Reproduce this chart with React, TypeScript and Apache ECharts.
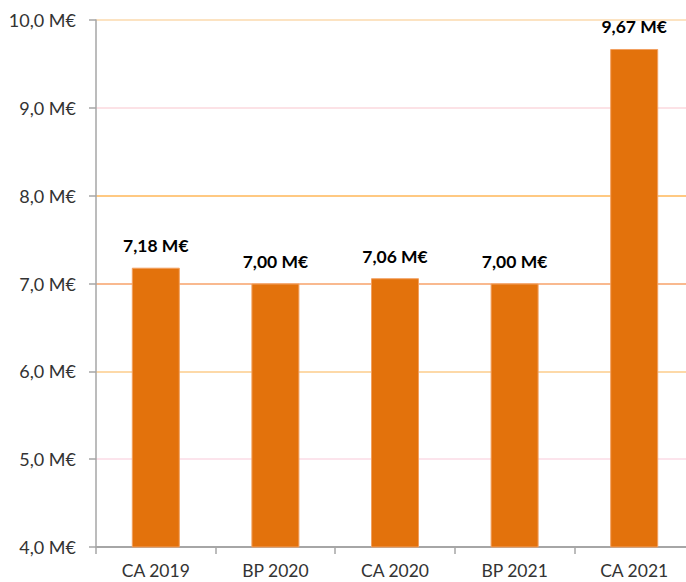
import React, { useEffect, useRef } from "react";
import * as echarts from "echarts";

const categories = ["CA 2019", "BP 2020", "CA 2020", "BP 2021", "CA 2021"];
const values = [7.18, 7.0, 7.06, 7.0, 9.67];
const yMin = 4;
const yMax = 10;
const yStep = 1;

const fmt = (v: number, d: number) => v.toFixed(d).replace(".", ",") + " M€";
const font = "Lato, 'Open Sans', sans-serif";

export default function App() {
  const ref = useRef<HTMLDivElement>(null);
  useEffect(() => {
    if (!ref.current) return;
    const chart = echarts.init(ref.current, undefined, { renderer: "svg" });
    chart.setOption({
      animation: false,
      backgroundColor: "#ffffff",
      grid: { left: 96, right: 0, top: 20, bottom: 35, containLabel: false },
      xAxis: {
        type: "category",
        data: categories,
        axisLine: { show: true, lineStyle: { color: "#A6A6A6", width: 1.5 } },
        axisTick: { show: true, length: 7, lineStyle: { color: "#A6A6A6", width: 1.5 } },
        axisLabel: {
          margin: 14,
          color: "#333333",
          fontSize: 17.5,
          lineHeight: 18,
          fontFamily: font,
        },
      },
      yAxis: {
        type: "value",
        min: yMin,
        max: yMax,
        interval: yStep,
        axisLine: { show: true, lineStyle: { color: "#A6A6A6", width: 1.5 } },
        axisTick: { show: true, length: 7, lineStyle: { color: "#A6A6A6", width: 1.5 } },
        axisLabel: {
          margin: 20,
          color: "#333333",
          fontSize: 18,
          fontFamily: font,
          formatter: (v: number) => fmt(v, 1),
        },
        splitLine: {
          show: true,
          lineStyle: {
            width: 2,
            color: ["#A6A6A6", "#FCE4EC", "#FDD9A8", "#F9B98F", "#FFC982", "#FCE2E6", "#FCE3C2"],
          },
        },
      },
      series: [
        {
          type: "bar",
          data: values,
          barWidth: 48,
          itemStyle: { color: "#E3720C", borderColor: "#F2A060", borderWidth: 1 },
          label: {
            show: true,
            position: "top",
            distance: 13,
            color: "#000000",
            fontWeight: "bold",
            fontSize: 17.5,
            fontFamily: font,
            formatter: (p: any) => fmt(p.value, 2),
          },
        },
      ],
    });
    return () => chart.dispose();
  }, []);
  return (
    <div
      ref={ref}
      style={{ position: "fixed", left: 0, top: 0, width: 694, height: 582 }}
    />
  );
}
